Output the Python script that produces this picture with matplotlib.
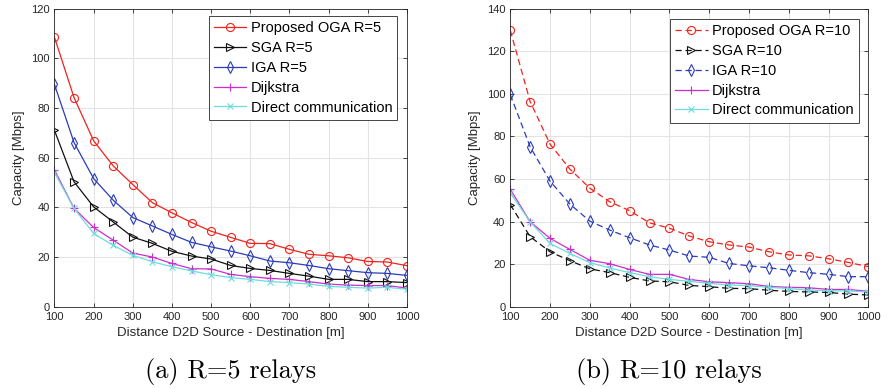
import matplotlib
matplotlib.use("Agg")
import matplotlib.pyplot as plt

distance = [100, 150, 200, 250, 300, 350, 400, 450, 500, 550, 600, 650, 700, 750, 800, 850, 900, 950, 1000]

# R = 5 relays
oga5 = [108.5, 84.2, 66.8, 56.7, 49.2, 41.9, 37.8, 33.9, 30.4, 27.9, 25.5, 25.4, 23.1, 21.1, 20.5, 19.7, 18.2, 18.0, 16.5]
sga5 = [71.0, 50.3, 40.2, 34.1, 28.0, 25.5, 22.3, 20.4, 19.2, 16.6, 15.4, 14.6, 13.4, 12.3, 11.0, 11.0, 10.1, 10.1, 9.7]
iga5 = [89.5, 66.1, 51.6, 42.9, 35.9, 32.5, 29.1, 25.9, 24.1, 22.4, 20.5, 18.4, 17.7, 16.6, 15.3, 14.5, 13.7, 13.4, 12.6]
dij5 = [55.0, 39.6, 31.9, 26.8, 21.6, 20.0, 17.4, 15.3, 15.2, 13.0, 12.1, 11.4, 11.0, 10.1, 9.1, 8.7, 8.5, 8.5, 7.5]
dir5 = [54.0, 39.6, 29.5, 24.7, 20.7, 18.1, 16.1, 14.4, 12.9, 11.7, 11.0, 10.1, 9.7, 9.1, 8.2, 7.8, 7.5, 7.8, 7.0]

# R = 10 relays
oga10 = [129.9, 96.4, 76.4, 64.6, 55.7, 49.3, 45.1, 39.4, 36.9, 33.2, 30.5, 29.0, 28.0, 25.8, 24.3, 23.9, 22.5, 20.8, 18.8]
sga10 = [48.0, 32.9, 25.8, 21.6, 17.8, 16.0, 13.8, 12.1, 11.7, 10.0, 9.4, 8.6, 8.5, 7.7, 7.2, 6.9, 6.7, 5.9, 5.5]
iga10 = [99.7, 75.1, 59.0, 48.2, 40.2, 36.0, 32.4, 29.0, 26.6, 23.8, 23.2, 20.3, 19.2, 18.3, 17.1, 16.0, 15.2, 14.1, 14.1]
dij10 = [55.2, 39.9, 32.1, 26.9, 21.8, 20.2, 17.5, 15.2, 15.2, 12.8, 11.7, 11.3, 10.8, 9.5, 9.1, 8.9, 8.1, 8.1, 7.2]
dir10 = [53.5, 39.9, 29.7, 25.0, 20.7, 18.2, 16.0, 14.1, 12.8, 11.9, 11.0, 10.2, 9.9, 9.1, 8.5, 7.8, 7.5, 7.4, 6.9]

xticks = [100, 200, 300, 400, 500, 600, 700, 800, 900, 1000]
yticks5 = [0, 20, 40, 60, 80, 100, 120]
yticks10 = [0, 20, 40, 60, 80, 100, 120, 140]

labels5 = ["Proposed OGA R=5", "SGA R=5", "IGA R=5", "Dijkstra", "Direct communication"]
labels10 = ["Proposed OGA R=10", "SGA R=10", "IGA R=10", "Dijkstra", "Direct communication"]
captions = ["(a) R=5 relays", "(b) R=10 relays"]

plt.rcParams['font.family'] = ['Liberation Sans', 'DejaVu Sans']

RED = '#f0221c'
BLACK = '#111111'
BLUE = '#2a3cb8'
MAG = '#cc2ecc'
CYAN = '#6cdcdc'

fig = plt.figure(figsize=(8.9, 3.89), dpi=100)
ax1 = fig.add_axes([0.0612, 0.2116, 0.396, 0.766])
ax2 = fig.add_axes([0.5733, 0.2116, 0.4024, 0.766])

def draw(ax, series, labels, dashed, ymax, yticks, legend_bbox):
    styles = [
        dict(color=RED, marker='o', ms=5.8),
        dict(color=BLACK, marker='>', ms=5.8),
        dict(color=BLUE, marker='d', ms=5.8),
        dict(color=MAG, marker='+', ms=5.5),
        dict(color=CYAN, marker='x', ms=4),
    ]
    for i, (vals, lab, st) in enumerate(zip(series, labels, styles)):
        ls = '--' if (dashed and i < 3) else '-'
        ax.plot(distance, vals, linestyle=ls, lw=0.9, color=st['color'], marker=st['marker'],
                ms=st['ms'], mfc='none', mec=st['color'], mew=0.8, label=lab,
                dashes=(5, 3) if ls == '--' else (None, None))
    ax.set_xlim(100, 1000)
    ax.set_ylim(0, ymax)
    ax.set_xticks(xticks)
    ax.set_yticks(yticks)
    ax.grid(True, color='#e3e3e3', lw=0.8)
    ax.set_axisbelow(True)
    ax.tick_params(direction='in', top=True, right=True, labelsize=8, length=3, colors='#262626', width=0.6)
    for sp in ax.spines.values():
        sp.set_color('#262626')
        sp.set_linewidth(0.6)
    ax.set_xlabel("Distance D2D Source - Destination [m]", fontsize=9.5, color='#262626', labelpad=4)
    ax.set_ylabel("Capacity [Mbps]", fontsize=9.5, color='#262626', labelpad=4)
    leg = ax.legend(loc='upper right', bbox_to_anchor=legend_bbox, fontsize=10.5, frameon=True,
                    fancybox=False, edgecolor='#262626', framealpha=1, borderpad=0.35,
                    labelspacing=0.4, handlelength=2.2, handletextpad=0.3, borderaxespad=0.3)
    leg.get_frame().set_linewidth(0.6)

draw(ax1, [oga5, sga5, iga5, dij5, dir5], labels5, False, 120, yticks5, (0.985, 0.99))
draw(ax2, [oga10, sga10, iga10, dij10, dir10], labels10, True, 140, yticks10, (0.985, 0.98))

fig.text(0.259, 0.044, captions[0], ha='center', va='center', fontsize=19, family='cmr10')
fig.text(0.751, 0.044, captions[1], ha='center', va='center', fontsize=19, family='cmr10')

fig.savefig("out.png", dpi=100)
